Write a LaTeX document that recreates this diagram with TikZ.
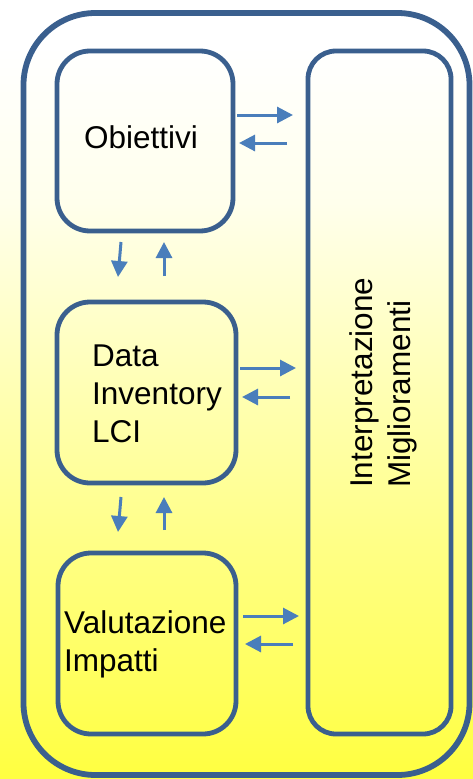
\documentclass[tikz,border=0pt]{standalone}
\usepackage{fontspec}
\setmainfont{Liberation Sans}
\usetikzlibrary{arrows.meta}
\definecolor{frame}{HTML}{3A5F8E}
\definecolor{arrowblue}{HTML}{4A7EBB}
\definecolor{ybot}{HTML}{FFFF40}
\definecolor{ymid}{HTML}{FFFFB4}
\definecolor{ylight}{HTML}{FFFFEC}
\pgfdeclareverticalshading{bgshade}{100bp}{color(0bp)=(ybot); color(25bp)=(ybot); color(50bp)=(ymid); color(62bp)=(ylight); color(72bp)=(white); color(100bp)=(white)}
\tikzset{
  stagebox/.style={draw=frame, line width=4.8pt, rounded corners=33pt, outer sep=0pt, inner sep=0pt},
  arr/.style={draw=arrowblue, line width=3pt, -{Triangle[length=16pt 0,width=16pt 0]}},
  lbl/.style={anchor=base west, inner sep=0pt, font=\fontsize{31.5}{38}\selectfont, text=black},
}
\begin{document}
\begin{tikzpicture}[x=1pt,y=-1pt]
\useasboundingbox (0,0) rectangle (473,779);
\shade[shading=bgshade] (0,0) rectangle (473,779);
% outer frame
\node[draw=frame, line width=5.8pt, rounded corners=72pt, outer sep=0pt, inner sep=0pt,
      minimum width=446pt, minimum height=762pt] (outer) at (246.5,394) {};
% boxes
\node[stagebox, minimum width=176pt, minimum height=180pt] (obj) at (145,141) {};
\node[stagebox, minimum width=179pt, minimum height=181pt] (data) at (146.5,392.5) {};
\node[stagebox, minimum width=178pt, minimum height=181pt] (val) at (147,643.5) {};
\node[stagebox, rounded corners=28pt, minimum width=143pt, minimum height=683pt] (interp) at (379.5,392.5) {};
% texts
\node[lbl] (tobj) at (84,148) {Obiettivi};
\node[lbl] (tdata1) at (92,366) {Data};
\node[lbl] (tdata2) at (92,404) {Inventory};
\node[lbl] (tdata3) at (92,442) {LCI};
\node[lbl] (tval1) at (64,633) {Valutazione};
\node[lbl] (tval2) at (64,671) {Impatti};
\node[lbl, rotate=90] (tint1) at (372,488) {Interpretazione};
\node[lbl, rotate=90] (tint2) at (410,488) {Miglioramenti};
% horizontal arrows
\coordinate (o1) at ([xshift=4pt,yshift=26pt]obj.east);
\coordinate (o2) at ([xshift=6pt,yshift=-2pt]obj.east);
\draw[arr, shorten >=15pt] (o1) -- (o1 -| interp.west);
\draw[arr, shorten <=21pt] (o2 -| interp.west) -- (o2);
\coordinate (d1) at ([xshift=4pt,yshift=24.5pt]data.east);
\coordinate (d2) at ([xshift=6pt,yshift=-4.5pt]data.east);
\draw[arr, shorten >=12pt] (d1) -- (d1 -| interp.west);
\draw[arr, shorten <=18pt] (d2 -| interp.west) -- (d2);
\coordinate (v1) at ([xshift=7pt,yshift=27.5pt]val.east);
\coordinate (v2) at ([xshift=9pt,yshift=-0.5pt]val.east);
\draw[arr, shorten >=9pt] (v1) -- (v1 -| interp.west);
\draw[arr, shorten <=15pt] (v2 -| interp.west) -- (v2);
% vertical arrows
\draw[arr] ([xshift=-24pt,yshift=-11pt]obj.south) -- ([xshift=-28.5pt,yshift=25pt]data.north);
\draw[arr] ([xshift=17.5pt,yshift=26pt]data.north) -- ([xshift=19pt,yshift=-11pt]obj.south);
\draw[arr] ([xshift=-25.5pt,yshift=-14pt]data.south) -- ([xshift=-29pt,yshift=21pt]val.north);
\draw[arr] ([xshift=17pt,yshift=23pt]val.north) -- ([xshift=17.5pt,yshift=-14pt]data.south);
\end{tikzpicture}
\end{document}
